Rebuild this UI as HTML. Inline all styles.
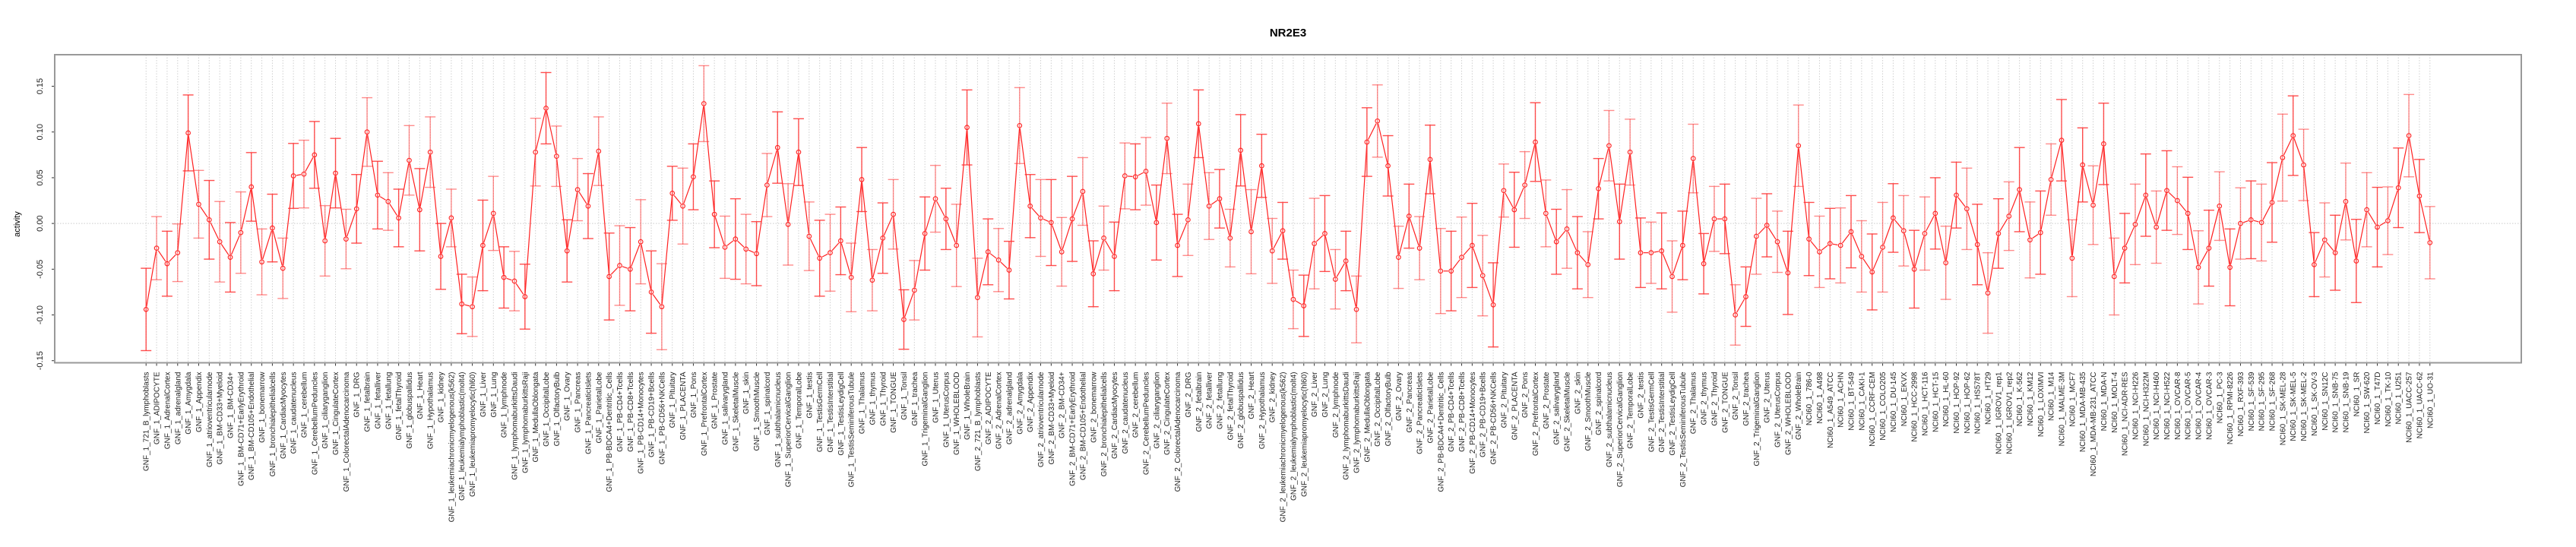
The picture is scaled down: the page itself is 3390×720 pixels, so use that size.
<!DOCTYPE html>
<html><head><meta charset="utf-8">
<style>
html,body{margin:0;padding:0;background:#fff;}
svg{display:block;font-family:"Liberation Sans",Arial,sans-serif;}
</style></head>
<body>
<svg id="chart" width="3390" height="720" viewBox="0 0 3390 720" xmlns="http://www.w3.org/2000/svg">
<text x="1695" y="48" text-anchor="middle" font-size="15" font-weight="bold">NR2E3</text>
<text transform="translate(26,295) rotate(-90)" text-anchor="middle" font-size="11">activity</text>
<g id="grid"></g>
<g id="yaxis"></g>
<g id="xaxis"></g>
<g id="series"></g>
<rect x="72" y="72" width="3246" height="405.5" fill="none" stroke="#999" stroke-width="2"/>
</svg>
<script>
const tissues = ["721_B_lymphoblasts","ADIPOCYTE","AdrenalCortex","adrenalgland","Amygdala","Appendix","atrioventricularnode","BM-CD33+Myeloid","BM-CD34+","BM-CD71+EarlyErythroid","BM-CD105+Endothelial","bonemarrow","bronchialepithelialcells","CardiacMyocytes","caudatenucleus","cerebellum","CerebellumPeduncles","ciliaryganglion","CingulateCortex","ColorectalAdenocarcinoma","DRG","fetalbrain","fetalliver","fetallung","fetalThyroid","globuspallidus","Heart","Hypothalamus","kidney","leukemiachronicmyelogenous(k562)","leukemialymphoblastic(molt4)","leukemiapromyelocytic(hl60)","Liver","Lung","lymphnode","lymphomaburkittsDaudi","lymphomaburkittsRaji","MedullaOblongata","OccipitalLobe","OlfactoryBulb","Ovary","Pancreas","PancreaticIslets","ParietalLobe","PB-BDCA4+Dentritic_Cells","PB-CD4+Tcells","PB-CD8+Tcells","PB-CD14+Monocytes","PB-CD19+Bcells","PB-CD56+NKCells","Pituitary","PLACENTA","Pons","PrefrontalCortex","Prostate","salivarygland","SkeletalMuscle","skin","SmoothMuscle","spinalcord","subthalamicnucleus","SuperiorCervicalGanglion","TemporalLobe","testis","TestisGermCell","TestisInterstitial","TestisLeydigCell","TestisSeminiferousTubule","Thalamus","thymus","Thyroid","TONGUE","Tonsil","trachea","TrigeminalGanglion","Uterus","UterusCorpus","WHOLEBLOOD","WholeBrain"];
const nci60 = ["786-0","A498","A549_ATCC","ACHN","BT-549","CAKI-1","CCRF-CEM","COLO205","DU-145","EKVX","HCC-2998","HCT-116","HCT-15","HL-60","HOP-92","HOP-62","HS578T","HT29","IGROV1_rep1","IGROV1_rep2","K-562","KM12","LOXIMVI","M14","MALME-3M","MCF7","MDA-MB-435","MDA-MB-231_ATCC","MDA-N","MOLT-4","NCI-ADR-RES","NCI-H226","NCI-H322M","NCI-H460","NCI-H522","OVCAR-8","OVCAR-5","OVCAR-4","OVCAR-3","PC-3","RPMI-8226","RXF-393","SF-539","SF-295","SF-268","SK-MEL-28","SK-MEL-5","SK-MEL-2","SK-OV-3","SN12C","SNB-75","SNB-19","SR","SW-620","T47D","TK-10","U251","UACC-257","UACC-62","UO-31"];
const categories = tissues.map(t=>"GNF_1_"+t).concat(tissues.map(t=>"GNF_2_"+t), nci60.map(t=>"NCI60_1_"+t));
const values = [-0.094,-0.027,-0.044,-0.032,0.099,0.021,0.004,-0.020,-0.037,-0.010,0.040,-0.042,-0.005,-0.049,0.052,0.054,0.075,-0.019,0.055,-0.017,0.016,0.100,0.031,0.024,0.006,0.069,0.015,0.078,-0.036,0.006,-0.088,-0.091,-0.024,0.011,-0.059,-0.063,-0.080,0.078,0.126,
0.0735,-0.030,0.037,0.019,0.079,-0.058,-0.046,-0.050,-0.020,-0.075,-0.091,0.033,0.019,0.051,0.131,0.010,-0.026,-0.017,-0.028,-0.033,0.042,0.083,-0.001,0.078,-0.014,-0.038,-0.032,-0.019,-0.059,0.048,-0.062,-0.016,0.010,-0.105,-0.073,-0.011,0.027,0.005,-0.024,0.105,
-0.081,-0.031,-0.040,-0.051,0.107,0.019,0.006,0.001,-0.031,0.005,0.035,-0.055,-0.016,-0.036,0.052,0.051,0.057,0.001,0.093,-0.024,0.004,0.109,0.019,0.027,-0.016,0.080,-0.009,0.063,-0.030,-0.008,-0.083,-0.090,-0.022,-0.011,-0.061,-0.041,-0.094,0.089,0.112,0.063,-0.037,0.008,-0.027,0.070,-0.052,-0.052,-0.037,-0.024,-0.057,-0.089,0.036,0.015,0.042,0.089,0.011,-0.020,-0.006,-0.032,-0.045,0.038,0.085,0.002,0.078,-0.032,-0.032,-0.030,-0.058,-0.024,0.071,-0.044,0.005,0.005,-0.100,-0.080,-0.014,-0.002,-0.020,-0.054,0.085,
-0.017,-0.031,-0.022,-0.024,-0.009,-0.036,-0.053,-0.026,0.006,-0.008,-0.050,-0.011,0.011,-0.043,0.031,0.016,-0.023,-0.076,-0.011,0.008,0.037,-0.018,-0.010,0.048,0.091,-0.038,0.064,0.020,0.087,-0.058,-0.027,-0.001,0.031,-0.004,0.036,0.025,0.011,-0.048,-0.027,0.019,-0.048,0.000,0.004,0.001,0.023,0.072,0.096,0.064,-0.045,-0.018,-0.032,0.024,-0.041,0.015,-0.004,0.003,0.039,0.096,0.030,-0.021];
const errors = [0.045,0.0345,0.0355,0.0315,0.0415,0.037,0.043,0.044,0.038,0.0445,0.0375,0.036,0.037,0.033,0.0355,0.037,0.0365,0.0385,0.038,0.0325,0.0375,0.0375,0.037,0.0315,0.0315,0.038,0.045,0.0385,0.036,0.0315,0.0325,0.0325,0.0495,0.0405,0.0335,0.0325,0.0355,0.037,0.039,
0.033,0.034,0.034,0.0355,0.0375,0.0475,0.0435,0.0455,0.046,0.045,0.047,0.0295,0.0415,0.036,0.0415,0.0365,0.034,0.044,0.038,0.035,0.0345,0.039,0.0445,0.0365,0.0375,0.0415,0.042,0.037,0.0375,0.035,0.0335,0.0385,0.038,0.0325,0.0325,0.040,0.0365,0.0335,0.045,0.041,
0.043,0.036,0.0345,0.0315,0.0415,0.0345,0.042,0.047,0.0375,0.0465,0.037,0.036,0.035,0.0375,0.036,0.036,0.037,0.041,0.0385,0.034,0.039,0.037,0.0365,0.032,0.0315,0.039,0.046,0.0345,0.0355,0.031,0.032,0.0335,0.0495,0.0415,0.0325,0.0325,0.0365,0.0375,0.0395,0.033,0.034,0.035,0.0345,0.0375,0.0465,0.0435,0.044,0.046,0.044,0.046,0.029,0.041,0.0365,0.043,0.0365,0.0355,0.043,0.0395,0.036,0.033,0.0385,0.041,0.036,0.038,0.0335,0.0415,0.039,0.0375,0.0375,0.033,0.0355,0.038,0.033,0.0325,0.0415,0.0345,0.0335,0.0455,0.0445,
0.040,0.039,0.0385,0.041,0.0395,0.039,0.0415,0.049,0.0375,0.0385,0.0425,0.040,0.039,0.040,0.036,0.0445,0.044,0.044,0.038,0.0375,0.046,0.0415,0.0455,0.039,0.0445,0.042,0.0405,0.043,0.0445,0.042,0.038,0.044,0.045,0.0395,0.0435,0.037,0.0395,0.040,0.0415,0.0375,0.042,0.039,0.0425,0.042,0.0435,0.0475,0.0435,0.039,0.035,0.0405,0.041,0.042,0.0455,0.0405,0.0435,0.037,0.0435,0.045,0.040,0.0395];
const yTicks = [-0.15,-0.10,-0.05,0.00,0.05,0.10,0.15];
const yTickLabels = ["-0.15","-0.10","-0.05","0.00","0.05","0.10","0.15"];

const NS="http://www.w3.org/2000/svg";
const L=72, R=3318, T=72, B=477.5;
const n=categories.length, pad=(n-1)*0.04;
const xMin=1-pad, xMax=n+pad, yMin=-0.1523, yMax=0.1845;
function xs(i){return L+(i+1-xMin)/(xMax-xMin)*(R-L);}
function ys(v){return B-(v-yMin)/(yMax-yMin)*(B-T);}
function mk(tag,attrs,parent){const e=document.createElementNS(NS,tag);for(const k in attrs)e.setAttribute(k,attrs[k]);parent.appendChild(e);return e;}
const grid=document.getElementById('grid'),yaxis=document.getElementById('yaxis'),xaxis=document.getElementById('xaxis'),series=document.getElementById('series');

for(let i=0;i<n;i++){
  const g=mk('line',{x1:xs(i),x2:xs(i),y1:T,y2:B,stroke:'#d0d0d0','stroke-width':1,'stroke-dasharray':'1.5,2'},grid);
  
  
}
const zl=mk('line',{x1:L,x2:R,y1:ys(0),y2:ys(0),stroke:'#cccccc','stroke-width':1,'stroke-dasharray':'1.5,2'},grid);



const al=mk('line',{x1:L,x2:L,y1:ys(yTicks[0]),y2:ys(yTicks[yTicks.length-1]),stroke:'#666','stroke-width':2},yaxis);


yTicks.forEach((v,k)=>{
  const y=ys(v);
  const t=mk('line',{x1:L-4,x2:L,y1:y,y2:y,stroke:'#333','stroke-width':1},yaxis);
  
  
  const tx=mk('text',{transform:`translate(56,${y}) rotate(-90)`,'text-anchor':'middle','font-size':11,fill:'#222'},yaxis);
  tx.textContent=yTickLabels[k];
  
  
});

const bl=mk('line',{x1:xs(0),x2:xs(n-1),y1:B,y2:B,stroke:'#666','stroke-width':2},xaxis);


categories.forEach((c,i)=>{
  const x=xs(i);
  const t=mk('line',{x1:x,x2:x,y1:B,y2:B+4,stroke:'#333','stroke-width':1},xaxis);
  
  
  const tx=mk('text',{transform:`translate(${x+3.5},${B+12}) rotate(-90)`,'text-anchor':'end','font-size':10,fill:'#222'},xaxis);
  tx.textContent=c;
  
  
});

const r=2.8;
for(let i=0;i<n-1;i++){
  const x1=xs(i),y1=ys(values[i]),x2=xs(i+1),y2=ys(values[i+1]);
  const dx=x2-x1,dy=y2-y1,len=Math.hypot(dx,dy);
  if(len<2*r+2)continue;
  const ux=dx/len,uy=dy/len;
  const s=mk('line',{x1:x1+ux*(r+1),y1:y1+uy*(r+1),x2:x2-ux*(r+1),y2:y2-uy*(r+1),stroke:'#ff2020','stroke-width':1.2},series);
  
  
}
values.forEach((v,i)=>{
  const x=xs(i),yh=ys(v+errors[i]),yl=ys(v-errors[i]);
  const g=mk('g',{stroke:'#ff3030','stroke-width':1.4,'stroke-opacity':(i%2?0.55:0.85)},series);
  
  
  mk('line',{x1:x,x2:x,y1:yh,y2:yl},g);
  mk('line',{x1:x-7,x2:x+7,y1:yh,y2:yh},g);
  mk('line',{x1:x-7,x2:x+7,y1:yl,y2:yl},g);
  const p=mk('circle',{cx:x,cy:ys(v),r:r,fill:'none',stroke:'#ff2020','stroke-width':1.1},series);
  
  
});
</script>
</body></html>
